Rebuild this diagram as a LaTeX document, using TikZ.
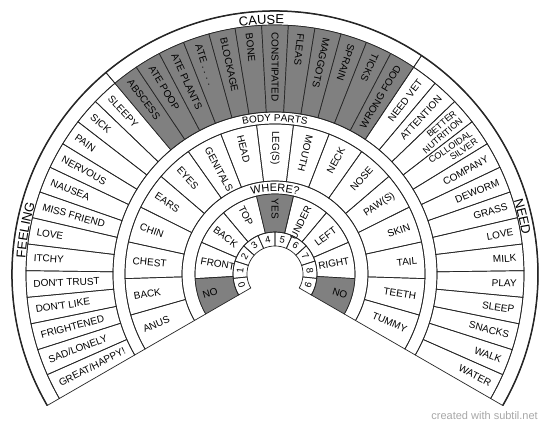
\documentclass[tikz,border=0pt]{standalone}
\usepackage{fontspec}
\setmainfont{Liberation Sans}
\setsansfont{Liberation Sans}
\usetikzlibrary{decorations.text}
\definecolor{linec}{HTML}{262626}
\definecolor{shade}{HTML}{808080}
\definecolor{wmark}{HTML}{A8A8A8}
\newcommand\annsec[5]{\path[#1] (#2:#4) arc[start angle=#2, end angle=#3, radius=#4] -- (#3:#5) arc[start angle=#3, end angle=#2, radius=#5] -- cycle;}
\newcommand\lblbig{\fontsize{13}{15}\selectfont}
\newcommand\lblmid{\fontsize{10}{12}\selectfont}
\newcommand\lblwhere{\fontsize{11}{13}\selectfont}
\begin{document}
\begin{tikzpicture}[
  cell/.style={draw=linec, line width=0.7pt},
  graycell/.style={cell, fill=shade},
  celltxt/.style={font=\fontsize{10}{11}\selectfont, inner sep=0pt, text=black},
  smalltxt/.style={font=\fontsize{9}{9.6}\selectfont, inner sep=0pt, text=black},
  digittxt/.style={font=\fontsize{9.5}{11}\selectfont, inner sep=0pt, text=black},
]
\fill[white] (-275pt,-154pt) rectangle (275pt,274pt);
\useasboundingbox (-275pt,-154pt) rectangle (275pt,274pt);

% outer label ring
\annsec{cell}{210}{130}{263pt}{249pt}
\annsec{cell}{130}{56.153846}{263pt}{249pt}
\annsec{cell}{56.153846}{-30}{263pt}{249pt}

% outer cells
\def\wo{6.153846}
\foreach \t [count=\i from 0] in {GREAT/HAPPY!, SAD/LONELY, FRIGHTENED, {DON\textquotesingle T LIKE}, {DON\textquotesingle T TRUST}, ITCHY, LOVE, MISS FRIEND, NAUSEA, NERVOUS, PAIN, SICK, SLEEPY, ABSCESS, ATE POOP, ATE PLANTS, ATE . . . ., BLOCKAGE, BONE, CONSTIPATED, FLEAS, MAGGOTS, SPRAIN, TICKS, WRONG FOOD, NEED VET, ATTENTION, {BETTER\\NUTRITION}, {COLLOIDAL\\SILVER}, COMPANY, DEWORM, GRASS, LOVE, MILK, PLAY, SLEEP, SNACKS, WALK, WATER} {
  \pgfmathsetmacro\ahi{210-\i*\wo}
  \pgfmathsetmacro\alo{\ahi-\wo}
  \pgfmathsetmacro\ctr{\ahi-\wo/2}
  \pgfmathtruncatemacro\isg{(\i>12)&&(\i<25)}
  \pgfmathtruncatemacro\istwo{(\i==27)||(\i==28)}
  \ifnum\isg=1 \annsec{graycell}{\ahi}{\alo}{249pt}{162pt}\else\annsec{cell}{\ahi}{\alo}{249pt}{162pt}\fi
  \ifnum\i<24
    \node[celltxt, anchor=west, rotate=\ctr-180] (o\i) at (\ctr:242pt) {\t};
  \else
    \ifnum\istwo=1
      \node[smalltxt, anchor=east, rotate=\ctr, align=right] (o\i) at (\ctr:242pt) {\t};
    \else
      \node[celltxt, anchor=east, rotate=\ctr] (o\i) at (\ctr:242pt) {\t};
    \fi
  \fi
}

% body parts label ring
\annsec{cell}{210}{-30}{162pt}{150pt}

% body parts cells
\def\wb{14.117647}
\foreach \t [count=\i from 0] in {ANUS, BACK, CHEST, CHIN, EARS, EYES, GENITALS, HEAD, LEG(S), MOUTH, NECK, NOSE, PAW(S), SKIN, TAIL, TEETH, TUMMY} {
  \pgfmathsetmacro\ahi{210-\i*\wb}
  \pgfmathsetmacro\alo{\ahi-\wb}
  \pgfmathsetmacro\ctr{\ahi-\wb/2}
  \annsec{cell}{\ahi}{\alo}{150pt}{93pt}
  \ifnum\i<10
    \node[celltxt, anchor=west, rotate=\ctr-180] (b\i) at (\ctr:143pt) {\t};
  \else
    \node[celltxt, anchor=east, rotate=\ctr] (b\i) at (\ctr:143pt) {\t};
  \fi
}

% where label ring
\annsec{cell}{210}{-30}{93pt}{80pt}

% where cells
\def\ww{26.666667}
\foreach \t [count=\i from 0] in {NO, FRONT, BACK, TOP, YES, UNDER, LEFT, RIGHT, NO} {
  \pgfmathsetmacro\ahi{210-\i*\ww}
  \pgfmathsetmacro\alo{\ahi-\ww}
  \pgfmathsetmacro\ctr{\ahi-\ww/2}
  \pgfmathtruncatemacro\isg{(\i==0)||(\i==4)||(\i==8)}
  \ifnum\isg=1 \annsec{graycell}{\ahi}{\alo}{80pt}{42pt}\else\annsec{cell}{\ahi}{\alo}{80pt}{42pt}\fi
  \ifnum\i<5
    \node[celltxt, anchor=west, rotate=\ctr-180] (w\i) at (\ctr:75.5pt) {\t};
  \else
    \node[celltxt, anchor=east, rotate=\ctr] (w\i) at (\ctr:75.5pt) {\t};
  \fi
}

% number ring
\foreach \i in {0,...,9} {
  \pgfmathsetmacro\ahi{210-\i*24}
  \pgfmathsetmacro\alo{\ahi-24}
  \pgfmathsetmacro\ctr{\ahi-12}
  \annsec{cell}{\ahi}{\alo}{42pt}{28pt}
  \node[digittxt, rotate=\ctr-90] (n\i) at (\ctr:35pt) {\i};
}

% thick outer rim
\draw[linec, line width=1.5pt] (210:263pt) arc[start angle=210, end angle=-30, radius=263pt];

% ring labels
\path[decorate, decoration={text along path, text align=center, text={|\lblbig|FEELING}}]
  (210:250pt) arc[start angle=210, end angle=130, radius=250pt];
\path[decorate, decoration={text along path, text align=center, text={|\lblbig|CAUSE}}]
  (130:250pt) arc[start angle=130, end angle=56.153846, radius=250pt];
\path[decorate, decoration={text along path, text align=center, text={|\lblbig|NEED}}]
  (56.153846:250pt) arc[start angle=56.153846, end angle=-30, radius=250pt];
\path[decorate, decoration={text along path, text align=center, text={|\lblmid|BODY PARTS}}]
  (210:152.4pt) arc[start angle=210, end angle=-30, radius=152.4pt];
\path[decorate, decoration={text along path, text align=center, text={|\lblwhere|WHERE?}}]
  (210:82.5pt) arc[start angle=210, end angle=-30, radius=82.5pt];

% watermark
\node[font=\fontsize{11}{13}\selectfont, text=wmark, anchor=base east, inner sep=0pt] (wm) at (263pt,-146pt) {created with subtil.net};
\end{tikzpicture}
\end{document}
